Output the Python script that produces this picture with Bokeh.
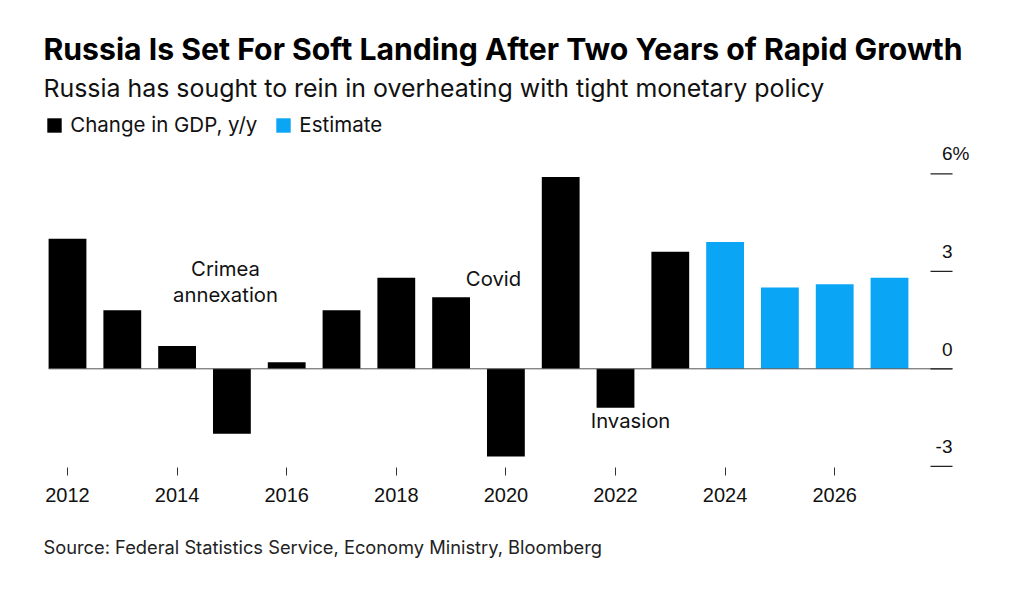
from bokeh.plotting import figure
from bokeh.models import (Legend, LegendItem, LinearAxis, FixedTicker, Range1d,
                          ColumnDataSource, Title)
from bokeh.core.properties import value
from bokeh.embed import file_html
from bokeh.resources import INLINE

# ---------------- data ----------------
actual_years = [2012, 2013, 2014, 2015, 2016, 2017, 2018, 2019, 2020, 2021, 2022, 2023]
actual_values = [4.0, 1.8, 0.7, -2.0, 0.2, 1.8, 2.8, 2.2, -2.7, 5.9, -1.2, 3.6]
estimate_years = [2024, 2025, 2026, 2027]
estimate_values = [3.9, 2.5, 2.6, 2.8]
x_ticks = [2012, 2014, 2016, 2018, 2020, 2022, 2024, 2026]
y_ticks = [-3, 0, 3, 6]
y_tick_labels = ["-3", "0", "3", "6%"]
legend_labels = ["Change in GDP, y/y", "Estimate"]
annotation_texts = ["Crimea\nannexation", "Covid", "Invasion"]

title_text = "Russia Is Set For Soft Landing After Two Years of Rapid Growth"
subtitle_text = "Russia has sought to rein in overheating with tight monetary policy"
source_text = "Source: Federal Statistics Service, Economy Ministry, Bloomberg"

# ---------------- styling / layout ----------------
FONT = "Inter"
NUM_FONT = "Liberation Sans"
BLACK = "#000000"
BLUE = "#0AA6F5"

W, H = 1010, 590
FRAME_BOTTOM = 467          # page y of frame bottom
ZERO_Y = 368.3              # page y of value 0
PX_PER_YEAR = 54.8
PX_PER_UNIT = 32.5
FIRST_CENTER_X = 67         # page x of first bar centre
BAR_W = 0.69

x_start = actual_years[0] - FIRST_CENTER_X / PX_PER_YEAR
x_end = x_start + W / PX_PER_YEAR
y_end = ZERO_Y / PX_PER_UNIT
y_start = -(FRAME_BOTTOM - ZERO_Y) / PX_PER_UNIT


def px_x(px):
    return x_start + px / PX_PER_YEAR


def py_y(py):
    return (ZERO_Y - py) / PX_PER_UNIT


p = figure(width=W, height=H, output_backend="svg", toolbar_location=None,
           x_range=Range1d(x_start, x_end), y_range=Range1d(y_start, y_end),
           x_axis_location=None, y_axis_location=None)
p.min_border_left = 0
p.min_border_right = 0
p.min_border_top = 0
p.min_border_bottom = H - FRAME_BOTTOM
p.outline_line_color = None
p.grid.grid_line_color = None
p.background_fill_color = "white"
p.border_fill_color = "white"

src_a = ColumnDataSource(dict(x=actual_years, top=actual_values))
src_e = ColumnDataSource(dict(x=estimate_years, top=estimate_values))
r1 = p.vbar(x="x", top="top", width=BAR_W, source=src_a, fill_color=BLACK, line_color=None)
r2 = p.vbar(x="x", top="top", width=BAR_W, source=src_e, fill_color=BLUE, line_color=None)

# zero line from the first bar to the value-axis ticks
p.segment(x0=[actual_years[0] - BAR_W / 2], y0=[0], x1=[px_x(952)], y1=[0],
          line_color="#555555", line_width=1)

# value-axis tick marks and labels (right side)
p.segment(x0=[px_x(930)] * len(y_ticks), y0=y_ticks, x1=[px_x(952)] * len(y_ticks), y1=y_ticks,
          line_color="#222222", line_width=1.3)
plain = [(t, l) for t, l in zip(y_ticks, y_tick_labels) if not l.endswith("%")]
pct = [(t, l) for t, l in zip(y_ticks, y_tick_labels) if l.endswith("%")]
p.text(x=[px_x(952)] * len(plain), y=[t for t, _ in plain], text=[l for _, l in plain],
       text_align="right", text_baseline="middle", y_offset=-19.5,
       text_font=value(NUM_FONT), text_font_size="19px", text_color="#111111")
p.text(x=[px_x(952)] * len(pct), y=[t for t, _ in pct], text=[l for _, l in pct],
       text_align="right", text_baseline="middle", y_offset=-20.5, x_offset=17,
       text_font=value(NUM_FONT), text_font_size="19px", text_color="#111111")

# bottom axis
xa = LinearAxis(ticker=FixedTicker(ticks=x_ticks))
xa.axis_line_color = None
xa.major_tick_in = 0
xa.major_tick_out = 8
xa.major_tick_line_color = "#333333"
xa.minor_tick_line_color = None
xa.major_label_text_font = NUM_FONT
xa.major_label_text_font_size = "20px"
xa.major_label_text_color = "#111111"
xa.major_label_standoff = 12
p.add_layout(xa, "below")

# annotations
ann_x = [px_x(225), px_x(493), px_x(630)]
ann_y = [py_y(281), py_y(278), py_y(420)]
p.text(x=ann_x, y=ann_y, text=annotation_texts, text_align="center",
       text_baseline="middle", text_font=value(FONT), text_font_size="20.3px",
       text_line_height=1.05, text_color="#111111")

# title & subtitle
p.text(x=[px_x(43)], y=[py_y(48.5)], text=[title_text], text_align="left",
       text_baseline="middle", text_font=value(FONT), text_font_style="bold",
       text_font_size="30.2px", text_color="#000000")
p.text(x=[px_x(43)], y=[py_y(87.5)], text=[subtitle_text], text_align="left",
       text_baseline="middle", text_font=value(FONT),
       text_font_size="24.9px", text_color="#111111")

# legend
legend = Legend(items=[LegendItem(label=legend_labels[0], renderers=[r1]),
                       LegendItem(label=legend_labels[1], renderers=[r2])],
                orientation="horizontal", location=(45.2, FRAME_BOTTOM - 137.3),
                padding=0, margin=0, spacing=17, glyph_width=18, glyph_height=18,
                label_standoff=7, label_text_font=FONT, label_text_font_size="20.5px",
                label_text_color="#111111", label_height=18,
                border_line_color=None, background_fill_alpha=0)
p.add_layout(legend)

# source
src_title = Title(text=source_text, align="left", offset=43, standoff=59,
                  text_font=FONT, text_font_size="18.3px", text_font_style="normal",
                  text_color="#222222")
p.add_layout(src_title, "below")

open("out.html", "w").write(file_html(p, INLINE))
